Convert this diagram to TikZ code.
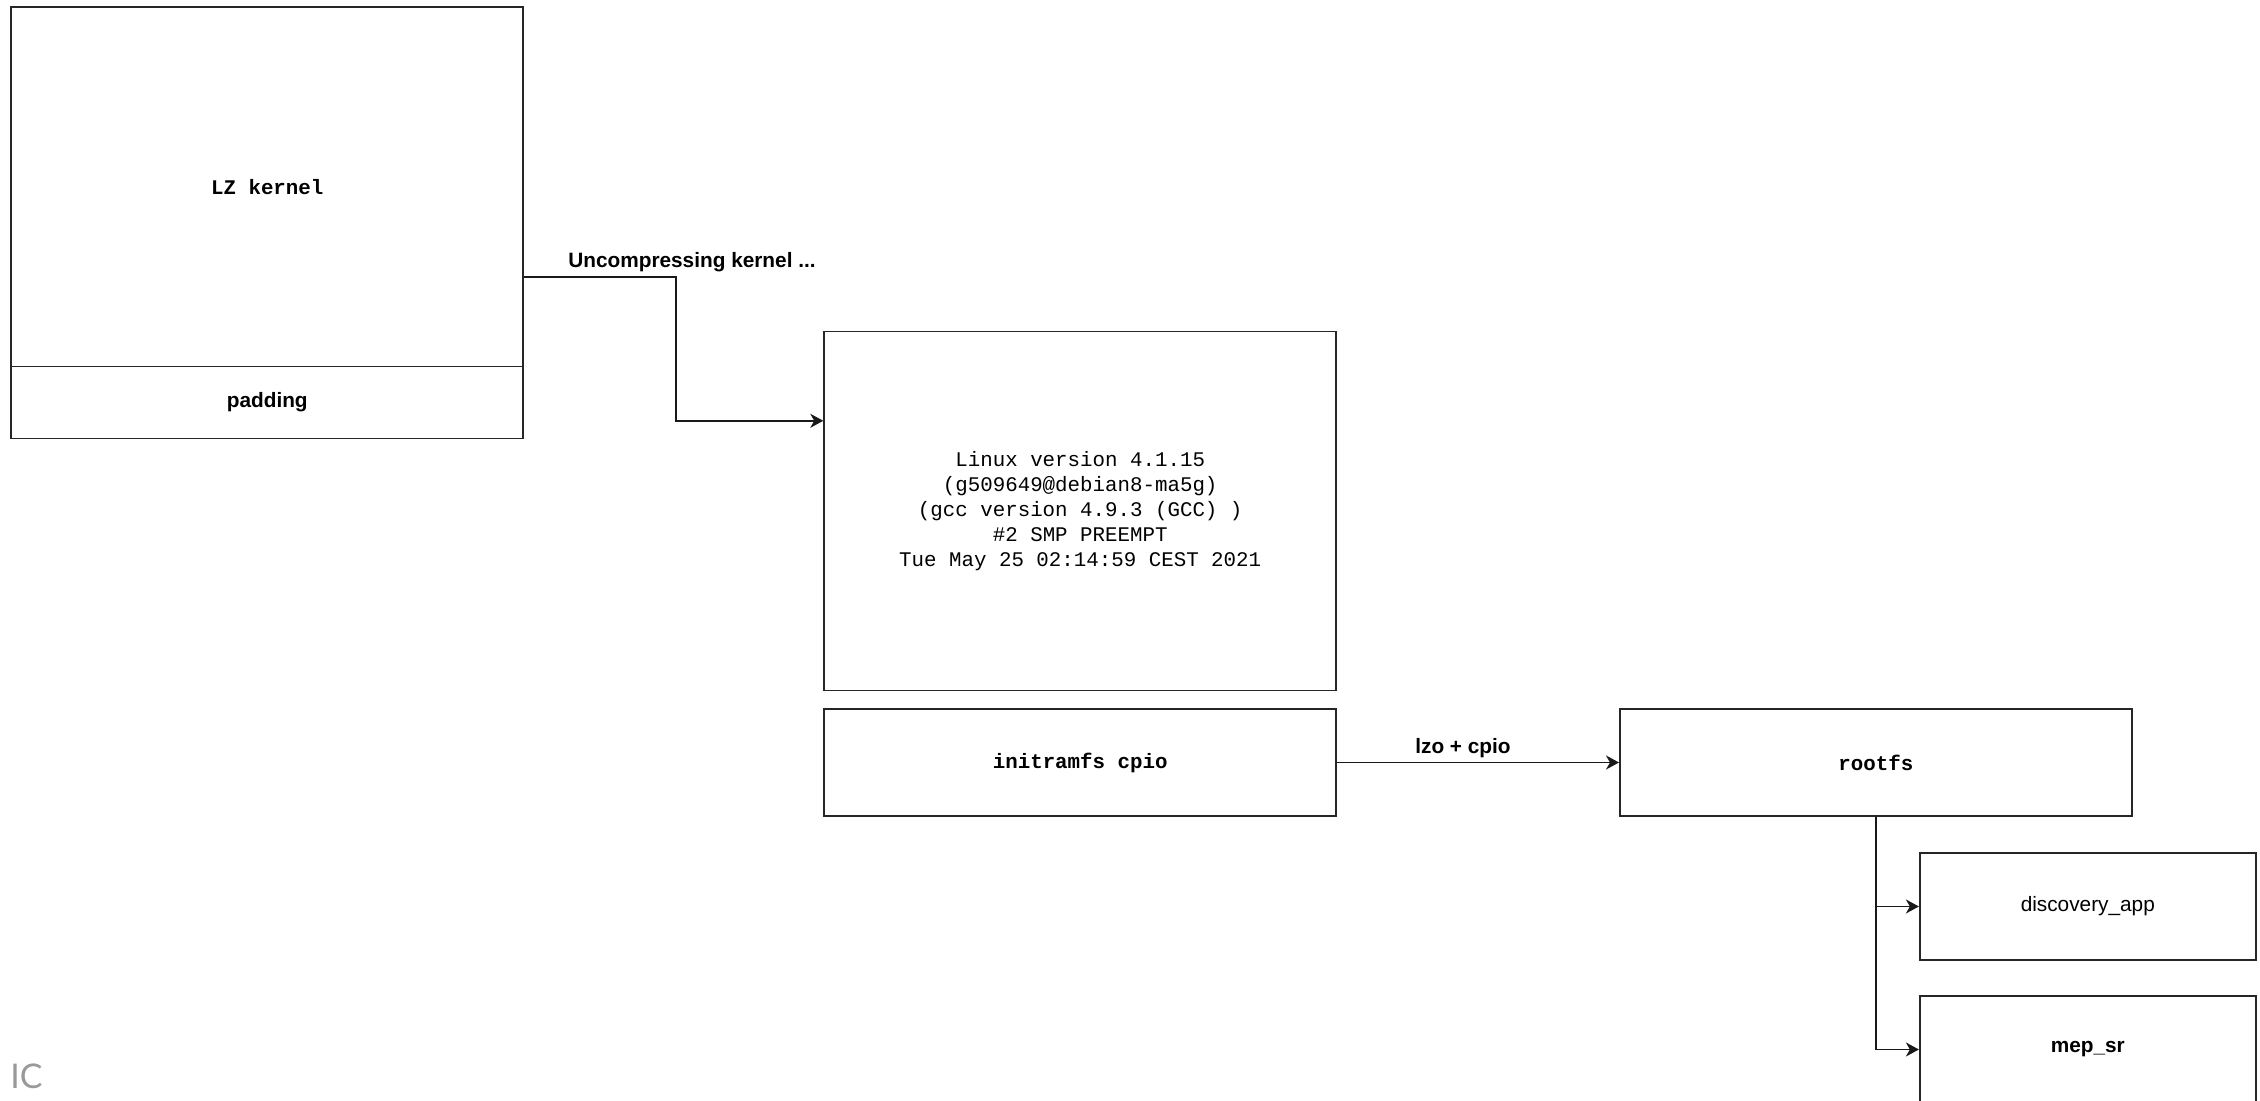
\documentclass[tikz,border=0pt]{standalone}
\usepackage{fontspec}
\setmainfont{Liberation Sans}
\setmonofont{Liberation Mono}
\newfontfamily\icfont{Lato}
\usetikzlibrary{arrows.meta,calc}
\begin{document}
\begin{tikzpicture}[x=0.5pt,y=-0.5pt,
  box/.style={draw=black!85, line width=0.9pt, fill=white, inner sep=0pt, align=center,
              font=\fontsize{10.4}{12.5}\selectfont},
  bigbox/.style={box, minimum width=256pt},
  smallbox/.style={box, minimum width=168pt, minimum height=53.5pt},
  mono/.style={font=\ttfamily\fontsize{10.4}{12.5}\selectfont},
  monob/.style={font=\ttfamily\bfseries\fontsize{10.4}{12.5}\selectfont},
  sansb/.style={font=\bfseries\fontsize{10.4}{12.5}\selectfont},
  sansr/.style={font=\fontsize{10.4}{12.5}\selectfont},
  arr/.style={draw=black!90, line width=0.9pt, -{Stealth[length=6.5pt,width=7pt,inset=2pt]}},
  lbl/.style={inner sep=0pt, font=\bfseries\fontsize{10.4}{12.5}\selectfont}]
\useasboundingbox (0,0) rectangle (2260,1101);
\clip (0,0) rectangle (2260,1101);

% left stack
\node[bigbox, minimum height=179.75pt, monob] (lz) at (267.25,186.75) {LZ kernel};
\node[bigbox, minimum height=36pt, sansb] (pad) at (267.25,402.5) {padding};

% linux
\node[bigbox, minimum height=179.5pt, mono] (linux) at (1080.2,511)
  {Linux version 4.1.15\\(g509649@debian8-ma5g)\\(gcc version 4.9.3 (GCC) )\\\#2 SMP PREEMPT\\Tue May 25 02:14:59 CEST 2021};
\node[bigbox, minimum height=53.5pt, monob] (initrd) at (1080.2,762.5) {initramfs cpio};

% rootfs
\node[bigbox, minimum height=53.5pt, monob] (rootfs) at (1875.9,762.5) {rootfs};
\node[smallbox, sansr] (disc) at (2087.8,906.5) {discovery\_app};
\node[smallbox, sansb] (mep) at (2087.8,1049.5) {mep\_sr};

% connectors
\coordinate (lzexit) at ($(lz.north east)!0.75!(lz.south east)$);
\coordinate (linuxin) at ($(linux.north west)!0.25!(linux.south west)$);
\draw[arr] (lzexit) -- ($(lzexit)+(151.5,0)$) |- (linuxin);
\node[lbl] (unc) at (692,262) {Uncompressing kernel ...};

\draw[arr] (initrd.east) -- (rootfs.west);
\node[lbl] (lzo) at (1463,748) {lzo + cpio};

\draw[arr] (rootfs.south) |- (disc.west);
\draw[arr] (rootfs.south) |- (mep.west);

% corner text
\node[anchor=west, inner sep=0pt, text=black!40, font=\icfont\fontsize{17}{17}\selectfont] (ic) at (10,1076) {IC};
\end{tikzpicture}
\end{document}
